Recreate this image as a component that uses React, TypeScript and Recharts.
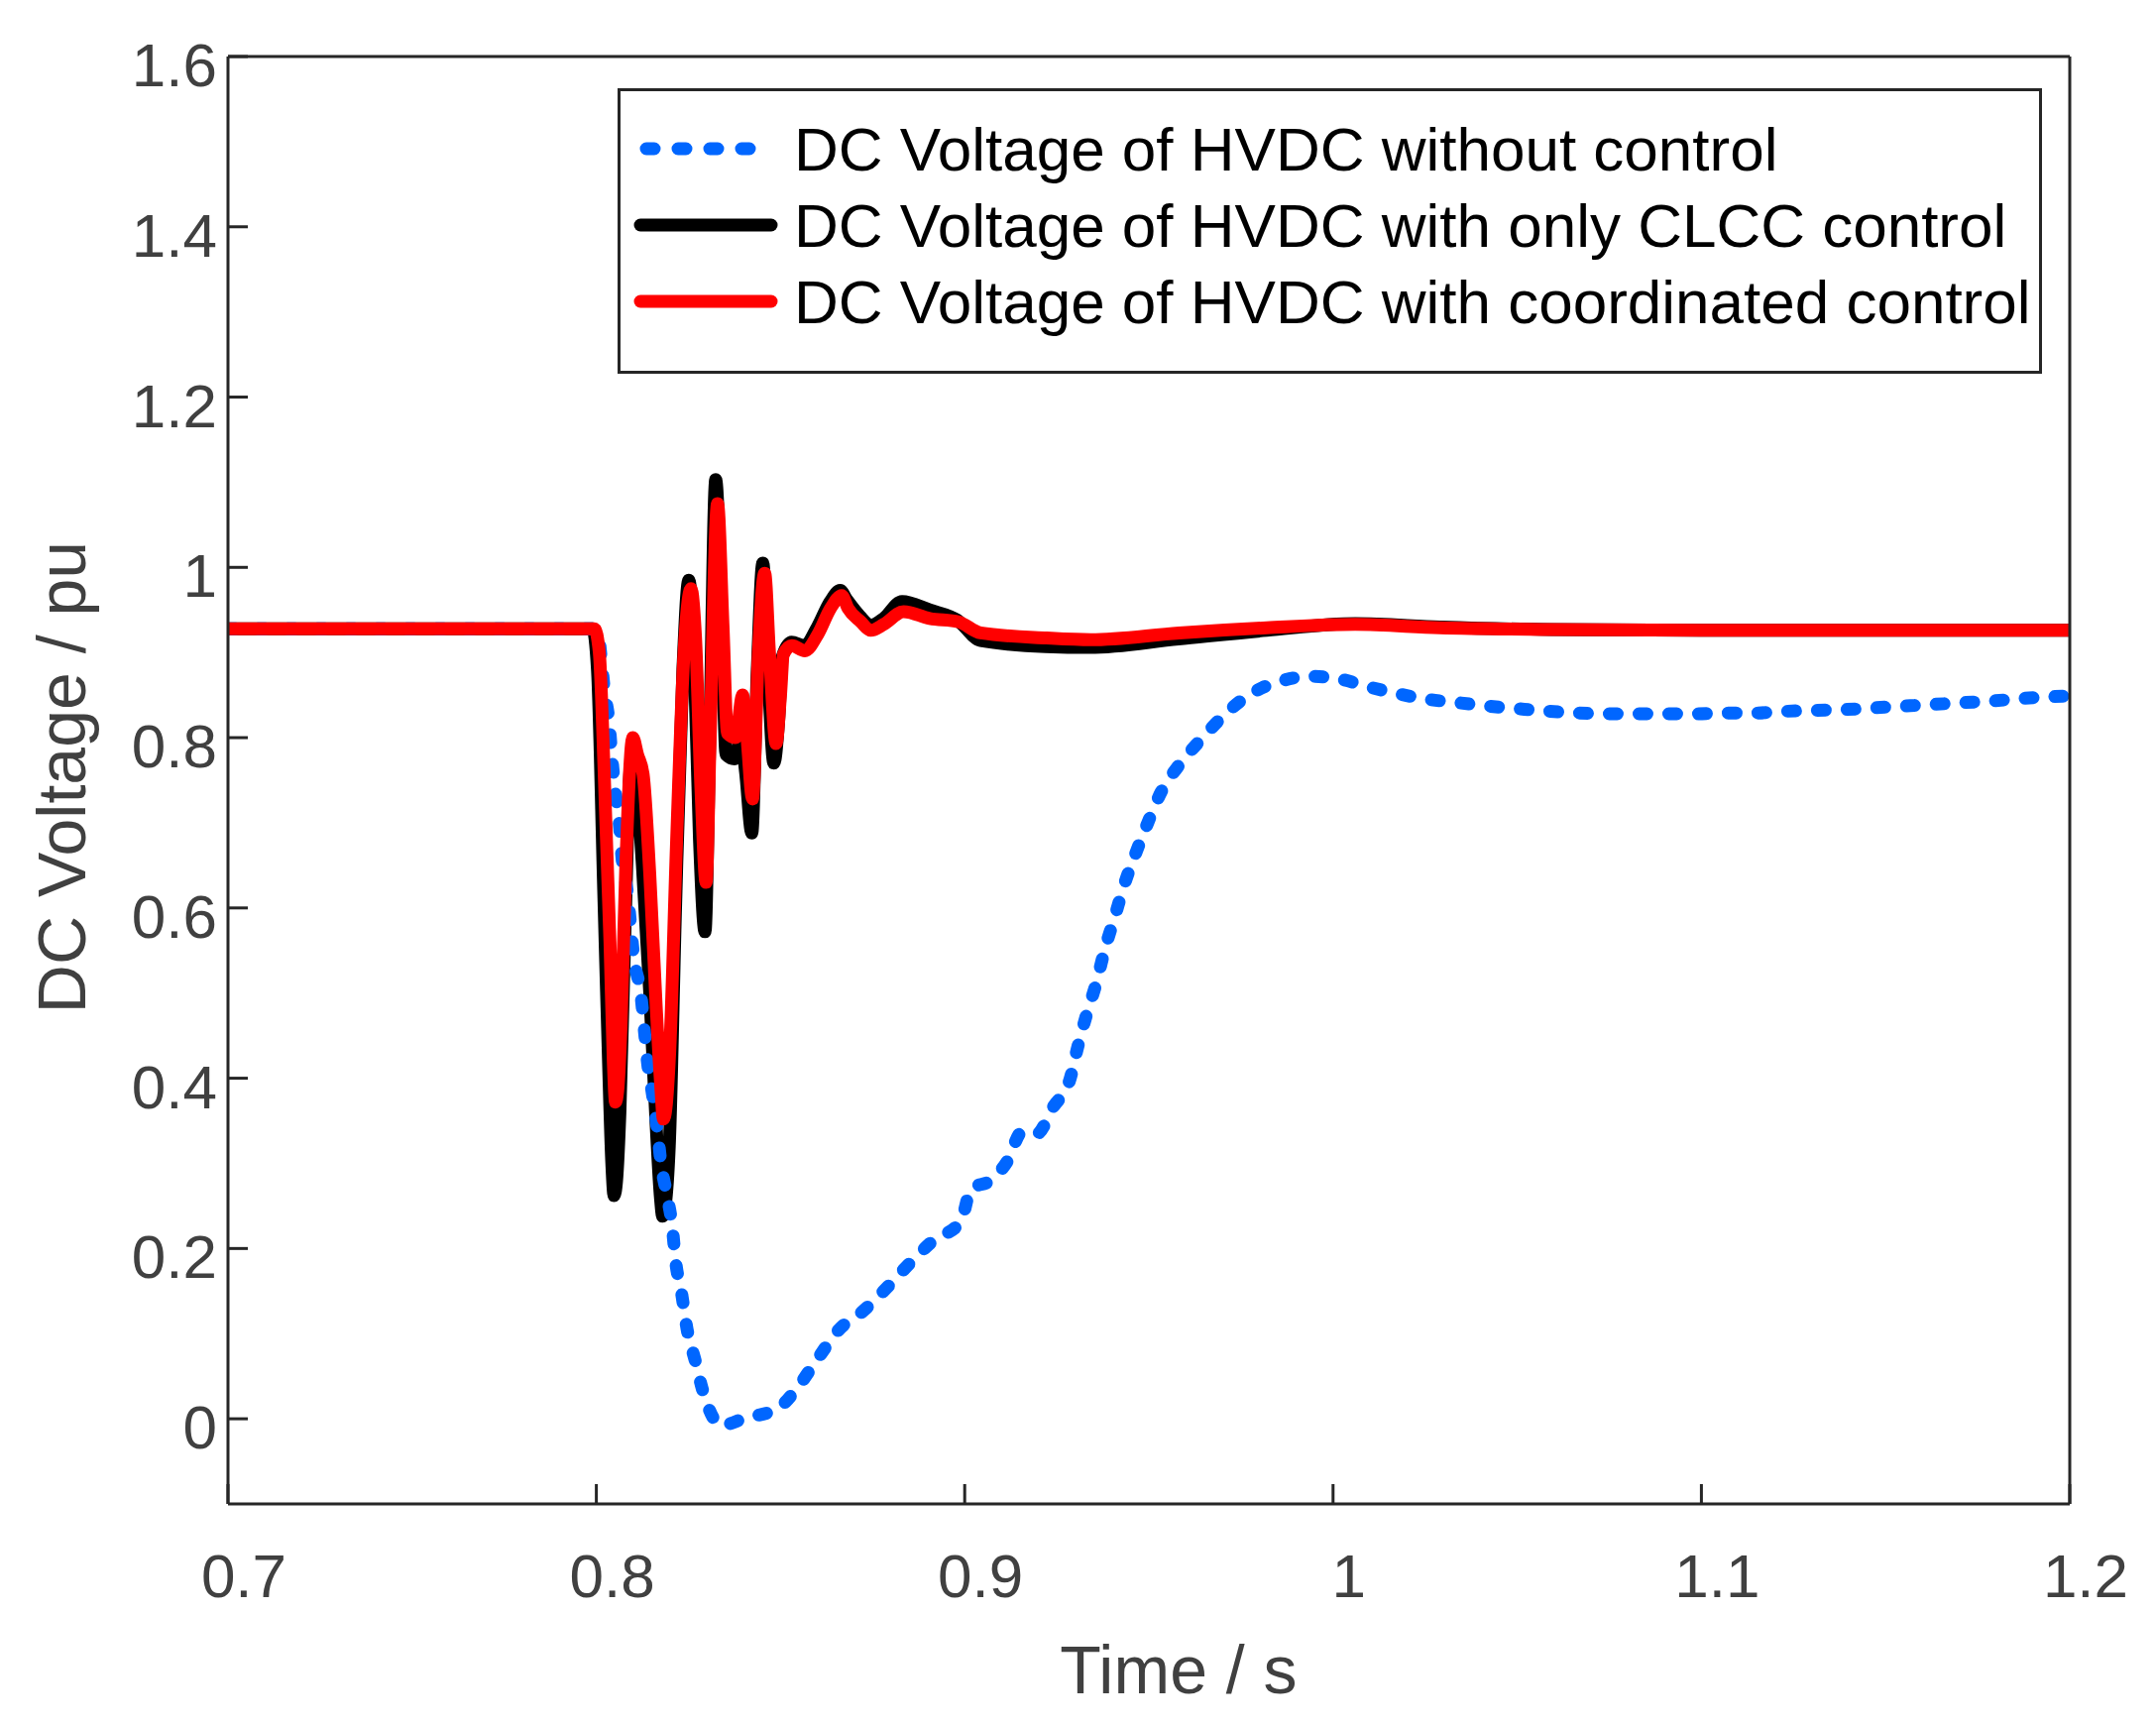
import React from "react";
import { LineChart, Line, XAxis, YAxis, Legend } from "recharts";

// time axis / voltage axis
const xTicks = [0.7, 0.8, 0.9, 1, 1.1, 1.2];
const yTicks = [0, 0.2, 0.4, 0.6, 0.8, 1, 1.2, 1.4, 1.6];

const seriesNames = [
  "DC Voltage of HVDC without control",
  "DC Voltage of HVDC with only CLCC control",
  "DC Voltage of HVDC with coordinated control",
];
const seriesColors = ["#0066ff", "#000000", "#ff0000"];

// without control (blue dashed)
const tBlue = [
  0.7, 0.8, 0.8004, 0.8013, 0.8022, 0.8035, 0.8042, 0.8051, 0.8062, 0.807, 0.8084,
  0.8103, 0.8121, 0.813, 0.8139, 0.8152, 0.8166, 0.8175, 0.8192, 0.8206, 0.8215,
  0.8232, 0.8246, 0.8268, 0.8291, 0.8325, 0.8335, 0.8405, 0.8492, 0.855, 0.8603,
  0.8657, 0.8728, 0.8791, 0.8854, 0.8914, 0.899, 0.9017, 0.907, 0.9115, 0.9156,
  0.9196, 0.924, 0.9286, 0.9307, 0.9331, 0.9358, 0.938, 0.9407, 0.9433, 0.9465,
  0.9497, 0.9533, 0.9586, 0.9644, 0.9708, 0.9775, 0.9855, 0.9936, 1.0016, 1.0103,
  1.0182, 1.0258, 1.0341, 1.0423, 1.0502, 1.0586, 1.0665, 1.0747, 1.0826, 1.0906,
  1.0988, 1.1071, 1.1147, 1.123, 1.131, 1.1389, 1.1467, 1.1547, 1.1627, 1.1706,
  1.1788, 1.1869, 1.1947, 1.2,
];
const vBlue = [
  0.928, 0.928, 0.926, 0.894, 0.855, 0.817, 0.778, 0.739, 0.7, 0.657, 0.619,
  0.538, 0.498, 0.458, 0.418, 0.382, 0.338, 0.302, 0.262, 0.226, 0.186,
  0.146, 0.106, 0.069, 0.03, -0.004, -0.008, 0.001, 0.012, 0.039, 0.072,
  0.104, 0.128, 0.155, 0.184, 0.209, 0.232, 0.27, 0.28, 0.302, 0.337,
  0.335, 0.366, 0.399, 0.437, 0.475, 0.513, 0.551, 0.589, 0.627, 0.665,
  0.7, 0.736, 0.77, 0.799, 0.828, 0.851, 0.866, 0.872, 0.869, 0.859,
  0.851, 0.845, 0.841, 0.837, 0.834, 0.831, 0.829, 0.828, 0.828, 0.828,
  0.828, 0.829, 0.829, 0.831, 0.832, 0.833, 0.835, 0.837, 0.839, 0.841,
  0.843, 0.846, 0.848, 0.849,
];

// only CLCC control (black)
const tBlack = [
  0.7, 0.799, 0.8003, 0.802, 0.8033, 0.8042, 0.8048, 0.8055, 0.8064, 0.8078, 0.8094,
  0.811, 0.8125, 0.8145, 0.8163, 0.8174, 0.818, 0.8187, 0.8198, 0.8215, 0.8235,
  0.8251, 0.8265, 0.828, 0.8295, 0.8307, 0.8324, 0.834, 0.8352, 0.8375, 0.8392,
  0.8405, 0.8422, 0.8437, 0.8452, 0.8465, 0.8482, 0.8495, 0.8505, 0.853, 0.8565,
  0.86, 0.8635, 0.8662, 0.868, 0.8715, 0.8745, 0.878, 0.883, 0.8905, 0.898,
  0.9043, 0.922, 0.934, 0.958, 0.982, 1.006, 1.029, 1.059, 1.1, 1.2,
];
const vBlack = [
  0.928, 0.928, 0.88, 0.62, 0.42, 0.3, 0.262, 0.28, 0.36, 0.58, 0.77,
  0.74, 0.65, 0.5, 0.34, 0.26, 0.238, 0.25, 0.32, 0.6, 0.88,
  0.985, 0.9, 0.68, 0.572, 0.78, 1.103, 0.94, 0.78, 0.775, 0.8,
  0.76, 0.688, 0.88, 1.005, 0.89, 0.77, 0.82, 0.895, 0.912, 0.908,
  0.93, 0.96, 0.973, 0.962, 0.943, 0.932, 0.94, 0.96, 0.95, 0.938,
  0.914, 0.907, 0.906, 0.916, 0.926, 0.934, 0.93, 0.927, 0.926, 0.926,
];

// coordinated control (red)
const tRed = [
  0.7, 0.7995, 0.8008, 0.8022, 0.8037, 0.8046, 0.8052, 0.8058, 0.8067, 0.808, 0.8099,
  0.8112, 0.8127, 0.8145, 0.8163, 0.8175, 0.8182, 0.8189, 0.8199, 0.8218, 0.8238,
  0.8257, 0.8269, 0.8284, 0.8298, 0.8309, 0.8329, 0.8344, 0.8356, 0.8378, 0.8397,
  0.8409, 0.8424, 0.844, 0.8457, 0.847, 0.8488, 0.85, 0.8508, 0.8531, 0.8566,
  0.8601, 0.8636, 0.8666, 0.8683, 0.8718, 0.8745, 0.878, 0.8834, 0.8905, 0.8983,
  0.9043, 0.9222, 0.9342, 0.9582, 0.982, 1.006, 1.029, 1.059, 1.1, 1.2,
];
const vRed = [
  0.928, 0.928, 0.9, 0.75, 0.56, 0.42, 0.372, 0.385, 0.46, 0.65, 0.8,
  0.78, 0.757, 0.64, 0.48, 0.39, 0.352, 0.365, 0.43, 0.68, 0.9,
  0.975, 0.92, 0.74, 0.63, 0.8, 1.075, 0.93, 0.805, 0.8, 0.85,
  0.8, 0.728, 0.9, 0.993, 0.9, 0.793, 0.85, 0.898, 0.908, 0.902,
  0.921, 0.952, 0.967, 0.952, 0.936, 0.926, 0.933, 0.948, 0.94, 0.936,
  0.923, 0.917, 0.915, 0.923, 0.929, 0.933, 0.929, 0.927, 0.926, 0.926,
];

const toRows = (ts: number[], vs: number[]) => ts.map((t, i) => ({ t, v: vs[i] }));
const blueData = toRows(tBlue, vBlue);
const blackData = toRows(tBlack, vBlack);
const redData = toRows(tRed, vRed);

const FONT = "'Liberation Sans', Arial, sans-serif";
const AXIS = "#262626";
const LABEL = "#404040";
const fmt = (v: number) => String(Number(v.toFixed(1)));

const XTick = ({ x, y, payload }: any) => (
  <text x={x + 16} y={y} dy="0.71em" textAnchor="middle" fontFamily={FONT} fontSize={62} fill={LABEL}>
    {fmt(payload.value)}
  </text>
);

const YTick = ({ x, y, payload }: any) => (
  <text x={x} y={y + 8} dy="0.355em" textAnchor="end" fontFamily={FONT} fontSize={62} fill={LABEL}>
    {fmt(payload.value)}
  </text>
);

const legendContent = () => (
  <svg width={1437} height={288} style={{ display: "block" }}>
    <rect x={1.5} y={1.5} width={1434} height={285} fill="#fff" stroke={AXIS} strokeWidth={3} />
    {seriesNames.map((name, i) => {
      const cy = 61 + i * 77;
      return (
        <g key={name}>
          <line
            x1={i === 0 ? 29 : 23}
            x2={i === 0 ? 149 : 155}
            y1={cy}
            y2={cy}
            stroke={seriesColors[i]}
            strokeWidth={13}
            strokeLinecap="round"
            strokeDasharray={i === 0 ? "8 24" : undefined}
          />
          <text x={178} y={cy + 22} fontFamily={FONT} fontSize={62} fill="#000">
            {name}
          </text>
        </g>
      );
    })}
  </svg>
);

// plot box edges: left 230, right 2088, top 57, bottom 1517
const AX_H = 30;
const AX_W = 60;

export default function App() {
  return (
    <div style={{ width: 2175, height: 1741, background: "#fff" }}>
      <style>{"body{margin:0}"}</style>
      <LineChart
        width={2175}
        height={1741}
        margin={{ top: 57 - AX_H, right: 87 - AX_W, bottom: 224 - AX_H, left: 230 - AX_W }}
      >
        <XAxis
          type="number"
          dataKey="t"
          domain={[0.7, 1.2]}
          ticks={xTicks}
          allowDataOverflow
          height={AX_H}
          stroke={AXIS}
          strokeWidth={3}
          tickSize={-20}
          tickMargin={70}
          tick={<XTick />}
          label={{
            content: () => (
              <text x={1189} y={1708} textAnchor="middle" fontFamily={FONT} fontSize={68} fill={LABEL}>
                Time / s
              </text>
            ),
          }}
        />
        <XAxis
          xAxisId="top"
          orientation="top"
          type="number"
          dataKey="t"
          domain={[0.7, 1.2]}
          ticks={xTicks}
          allowDataOverflow
          height={AX_H}
          stroke={AXIS}
          strokeWidth={3}
          tickSize={-20}
          tick={false}
        />
        <YAxis
          type="number"
          domain={[-0.1, 1.6]}
          ticks={yTicks}
          allowDataOverflow
          width={AX_W}
          stroke={AXIS}
          strokeWidth={3}
          tickSize={-20}
          tickMargin={31}
          tick={<YTick />}
          label={{
            content: () => (
              <text
                x={86}
                y={784}
                transform="rotate(-90 86 784)"
                textAnchor="middle"
                fontFamily={FONT}
                fontSize={68}
                fill={LABEL}
              >
                DC Voltage / pu
              </text>
            ),
          }}
        />
        <YAxis
          yAxisId="right"
          orientation="right"
          type="number"
          domain={[-0.1, 1.6]}
          ticks={yTicks}
          allowDataOverflow
          width={AX_W}
          stroke={AXIS}
          strokeWidth={3}
          tickSize={-20}
          tick={false}
        />
        <Legend
          layout="vertical"
          align="center"
          verticalAlign="middle"
          content={legendContent}
          wrapperStyle={{ position: "absolute", left: 623, top: 89, width: 1437, height: 288 }}
        />
        <Line
          data={blackData}
          dataKey="v"
          name={seriesNames[1]}
          type="monotoneX"
          stroke={seriesColors[1]}
          strokeWidth={13}
          strokeLinejoin="round"
          dot={false}
          activeDot={false}
          isAnimationActive={false}
        />
        <Line
          data={blueData}
          dataKey="v"
          name={seriesNames[0]}
          type="monotoneX"
          stroke={seriesColors[0]}
          strokeWidth={13}
          strokeDasharray="8 22"
          strokeLinecap="round"
          dot={false}
          activeDot={false}
          isAnimationActive={false}
        />
        <Line
          data={redData}
          dataKey="v"
          name={seriesNames[2]}
          type="monotoneX"
          stroke={seriesColors[2]}
          strokeWidth={13}
          strokeLinejoin="round"
          dot={false}
          activeDot={false}
          isAnimationActive={false}
        />
      </LineChart>
    </div>
  );
}
